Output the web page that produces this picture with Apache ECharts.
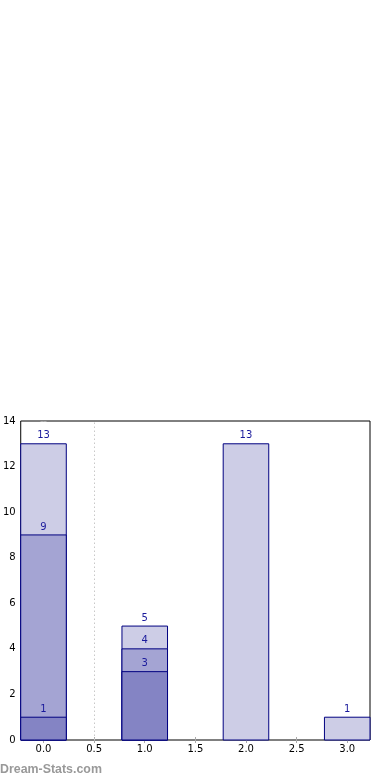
<!DOCTYPE html>
<html>
<head>
<meta charset="utf-8">
<style>html,body{margin:0;padding:0;background:#fff;}#chart{width:390px;height:780px;}</style>
<script src="https://cdn.jsdelivr.net/npm/echarts@6/dist/echarts.min.js"></script>
</head>
<body>
<div id="chart"></div>
<script>
// Data
const positions = [0, 1, 2, 3];
const totalValues = [13, 5, 13, 1];      // light layer
const middleValues = [9, 4, null, null]; // medium layer
const lowValues = [1, 3, null, null];    // dark layer
const xTicks = [0, 0.5, 1, 1.5, 2, 2.5, 3];
const separatorX = 0.5;
const watermark = 'Dream-Stats.com';

const barHalf = 0.225;
const font = 'DejaVu Sans';

function toData(vals) {
  const out = [];
  vals.forEach((v, i) => { if (v !== null) out.push([positions[i], v]); });
  return out;
}

function makeRender(color) {
  return function (params, api) {
    const x = api.value(0), v = api.value(1);
    const p0 = api.coord([x - barHalf, v]);
    const p1 = api.coord([x + barHalf, 0]);
    const c = api.coord([x, v]);
    return {
      type: 'group',
      children: [
        { type: 'rect', shape: { x: p0[0], y: p0[1], width: p1[0] - p0[0], height: p1[1] - p0[1] },
          style: { fill: color, stroke: '#000080', lineWidth: 1 } },
        { type: 'text', x: c[0], y: c[1] - 3,
          style: { text: String(v), textAlign: 'center', textVerticalAlign: 'bottom',
                   fill: '#1a1a9c', font: '10px "' + font + '"' } }
      ]
    };
  };
}

const chart = echarts.init(document.getElementById('chart'), null, { renderer: 'canvas' });
const tickStyle = { show: true, inside: true, length: 3, lineStyle: { color: '#aaaaaa', width: 1 } };
chart.setOption({
  animation: false,
  grid: { left: 19.5, right: 20, top: 421, bottom: 40, show: true, borderColor: '#000', borderWidth: 1, backgroundColor: 'transparent' },
  xAxis: [
    { type: 'value', min: -barHalf, max: 3 + barHalf, position: 'bottom',
      axisLine: { show: false }, splitLine: { show: false },
      axisTick: Object.assign({ customValues: xTicks }, tickStyle),
      axisLabel: { customValues: xTicks, formatter: v => Number(v).toFixed(1), color: '#000', fontSize: 10, fontFamily: font, margin: 4 } },
    { type: 'value', min: -barHalf, max: 3 + barHalf, position: 'top',
      axisLine: { show: false }, splitLine: { show: false },
      axisTick: Object.assign({ customValues: xTicks }, tickStyle),
      axisLabel: { show: false } }
  ],
  yAxis: [
    { type: 'value', min: 0, max: 14, interval: 2, position: 'left',
      axisLine: { show: false }, splitLine: { show: false },
      axisTick: tickStyle,
      axisLabel: { color: '#000', fontSize: 10, fontFamily: font, margin: 5 } },
    { type: 'value', min: 0, max: 14, interval: 2, position: 'right',
      axisLine: { show: false }, splitLine: { show: false },
      axisTick: tickStyle, axisLabel: { show: false } }
  ],
  graphic: [{ type: 'text', left: 0, top: 764, style: { text: watermark, fill: '#999999', font: 'bold 12.4px "Liberation Sans"' } }],
  series: [
    { type: 'custom', renderItem: makeRender('#cdcde6'), data: toData(totalValues), clip: false,
      markLine: { silent: true, symbol: 'none', label: { show: false },
        lineStyle: { type: [1.5, 2.5], color: '#c8c8c8', width: 1 }, data: [{ xAxis: separatorX }] } },
    { type: 'custom', renderItem: makeRender('#a4a4d3'), data: toData(middleValues), clip: false },
    { type: 'custom', renderItem: makeRender('#8484c4'), data: toData(lowValues), clip: false }
  ]
});
</script>
</body>
</html>
